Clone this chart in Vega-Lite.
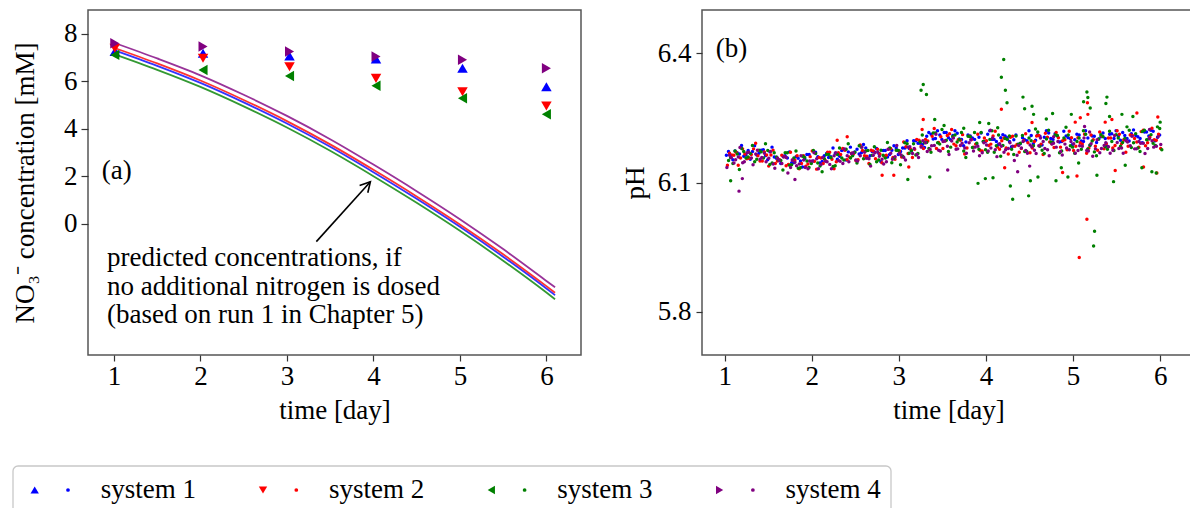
{
"$schema": "https://vega.github.io/schema/vega-lite/v6.json",
"padding": {"left": 10, "top": 9, "right": 0, "bottom": 0},
"config": {
  "font": "Liberation Serif",
  "axis": {"labelFont": "Liberation Serif", "titleFont": "Liberation Serif", "labelFontSize": 27, "titleFontSize": 27, "titleFontWeight": "normal", "labelColor": "#000", "titleColor": "#000", "grid": false, "domain": false, "tickColor": "#333", "tickWidth": 1.2, "labelFlush": false, "labelOverlap": false},
  "view": {"stroke": "#555", "strokeWidth": 1.5},
  "text": {"font": "Liberation Serif", "fontSize": 27, "color": "#000"}
},
"datasets": {
  "pred": [
    {"s":1,"t":1,"c":7.32},{"s":1,"t":1.5,"c":6.66},{"s":1,"t":2,"c":5.94},{"s":1,"t":2.5,"c":5.12},{"s":1,"t":3,"c":4.23},{"s":1,"t":3.5,"c":3.25},{"s":1,"t":4,"c":2.18},{"s":1,"t":4.5,"c":1.06},{"s":1,"t":5,"c":-0.12},{"s":1,"t":5.5,"c":-1.38},{"s":1,"t":6,"c":-2.72},{"s":1,"t":6.1,"c":-3.0},
    {"s":3,"t":1,"c":7.15},{"s":3,"t":1.5,"c":6.49},{"s":3,"t":2,"c":5.77},{"s":3,"t":2.5,"c":4.95},{"s":3,"t":3,"c":4.06},{"s":3,"t":3.5,"c":3.08},{"s":3,"t":4,"c":2.01},{"s":3,"t":4.5,"c":0.89},{"s":3,"t":5,"c":-0.29},{"s":3,"t":5.5,"c":-1.55},{"s":3,"t":6,"c":-2.89},{"s":3,"t":6.1,"c":-3.17},
    {"s":2,"t":1,"c":7.42},{"s":2,"t":1.5,"c":6.76},{"s":2,"t":2,"c":6.04},{"s":2,"t":2.5,"c":5.22},{"s":2,"t":3,"c":4.33},{"s":2,"t":3.5,"c":3.35},{"s":2,"t":4,"c":2.28},{"s":2,"t":4.5,"c":1.16},{"s":2,"t":5,"c":-0.02},{"s":2,"t":5.5,"c":-1.28},{"s":2,"t":6,"c":-2.62},{"s":2,"t":6.1,"c":-2.9},
    {"s":4,"t":1,"c":7.63},{"s":4,"t":1.5,"c":6.97},{"s":4,"t":2,"c":6.26},{"s":4,"t":2.5,"c":5.44},{"s":4,"t":3,"c":4.55},{"s":4,"t":3.5,"c":3.57},{"s":4,"t":4,"c":2.5},{"s":4,"t":4.5,"c":1.38},{"s":4,"t":5,"c":0.2},{"s":4,"t":5.5,"c":-1.06},{"s":4,"t":6,"c":-2.4},{"s":4,"t":6.1,"c":-2.67}
  ],
  "no3": [
    {"s":1,"t":1.01,"c":7.26},{"s":1,"t":2.03,"c":7.19},{"s":1,"t":3.03,"c":7.07},{"s":1,"t":4.03,"c":6.95},{"s":1,"t":5.03,"c":6.56},{"s":1,"t":6.0,"c":5.78},
    {"s":2,"t":1.01,"c":7.4},{"s":2,"t":2.03,"c":6.98},{"s":2,"t":3.03,"c":6.62},{"s":2,"t":4.03,"c":6.13},{"s":2,"t":5.03,"c":5.57},{"s":2,"t":6.0,"c":4.97},
    {"s":3,"t":1.01,"c":7.12},{"s":3,"t":2.03,"c":6.48},{"s":3,"t":3.03,"c":6.23},{"s":3,"t":4.03,"c":5.82},{"s":3,"t":5.03,"c":5.29},{"s":3,"t":6.0,"c":4.62},
    {"s":4,"t":1.01,"c":7.61},{"s":4,"t":2.03,"c":7.47},{"s":4,"t":3.03,"c":7.26},{"s":4,"t":4.03,"c":7.05},{"s":4,"t":5.03,"c":6.91},{"s":4,"t":6.0,"c":6.56}
  ],
  "ph": [
{"s":1,"t":1.02,"p":6.163},{"s":1,"t":1.07,"p":6.158},{"s":1,"t":1.12,"p":6.173},{"s":1,"t":1.17,"p":6.166},{"s":1,"t":1.22,"p":6.161},{"s":1,"t":1.27,"p":6.174},{"s":1,"t":1.32,"p":6.172},{"s":1,"t":1.37,"p":6.164},{"s":1,"t":1.42,"p":6.175},{"s":1,"t":1.47,"p":6.162},
{"s":1,"t":1.52,"p":6.171},{"s":1,"t":1.57,"p":6.159},{"s":1,"t":1.62,"p":6.151},{"s":1,"t":1.67,"p":6.161},{"s":1,"t":1.72,"p":6.157},{"s":1,"t":1.77,"p":6.146},{"s":1,"t":1.82,"p":6.16},{"s":1,"t":1.87,"p":6.15},{"s":1,"t":1.92,"p":6.155},{"s":1,"t":1.97,"p":6.165},
{"s":1,"t":2.02,"p":6.15},{"s":1,"t":2.07,"p":6.16},{"s":1,"t":2.12,"p":6.149},{"s":1,"t":2.17,"p":6.167},{"s":1,"t":2.22,"p":6.16},{"s":1,"t":2.27,"p":6.168},{"s":1,"t":2.32,"p":6.161},{"s":1,"t":2.37,"p":6.176},{"s":1,"t":2.42,"p":6.171},{"s":1,"t":2.47,"p":6.164},
{"s":1,"t":2.52,"p":6.177},{"s":1,"t":2.57,"p":6.169},{"s":1,"t":2.62,"p":6.18},{"s":1,"t":2.67,"p":6.162},{"s":1,"t":2.72,"p":6.171},{"s":1,"t":2.77,"p":6.167},{"s":1,"t":2.82,"p":6.174},{"s":1,"t":2.87,"p":6.159},{"s":1,"t":2.92,"p":6.175},{"s":1,"t":2.97,"p":6.18},
{"s":1,"t":3.02,"p":6.172},{"s":1,"t":3.07,"p":6.18},{"s":1,"t":3.12,"p":6.179},{"s":1,"t":3.17,"p":6.197},{"s":1,"t":3.22,"p":6.191},{"s":1,"t":3.27,"p":6.188},{"s":1,"t":3.32,"p":6.207},{"s":1,"t":3.37,"p":6.212},{"s":1,"t":3.42,"p":6.202},{"s":1,"t":3.47,"p":6.21},
{"s":1,"t":3.52,"p":6.216},{"s":1,"t":3.57,"p":6.204},{"s":1,"t":3.62,"p":6.209},{"s":1,"t":3.67,"p":6.214},{"s":1,"t":3.72,"p":6.2},{"s":1,"t":3.77,"p":6.194},{"s":1,"t":3.82,"p":6.208},{"s":1,"t":3.87,"p":6.2},{"s":1,"t":3.92,"p":6.205},{"s":1,"t":3.97,"p":6.195},
{"s":1,"t":4.02,"p":6.212},{"s":1,"t":4.07,"p":6.2},{"s":1,"t":4.12,"p":6.195},{"s":1,"t":4.17,"p":6.204},{"s":1,"t":4.22,"p":6.208},{"s":1,"t":4.27,"p":6.195},{"s":1,"t":4.32,"p":6.199},{"s":1,"t":4.37,"p":6.189},{"s":1,"t":4.42,"p":6.204},{"s":1,"t":4.47,"p":6.197},
{"s":1,"t":4.52,"p":6.209},{"s":1,"t":4.57,"p":6.198},{"s":1,"t":4.62,"p":6.207},{"s":1,"t":4.67,"p":6.205},{"s":1,"t":4.72,"p":6.215},{"s":1,"t":4.77,"p":6.2},{"s":1,"t":4.82,"p":6.208},{"s":1,"t":4.87,"p":6.195},{"s":1,"t":4.92,"p":6.208},{"s":1,"t":4.97,"p":6.202},
{"s":1,"t":5.02,"p":6.199},{"s":1,"t":5.07,"p":6.21},{"s":1,"t":5.12,"p":6.195},{"s":1,"t":5.17,"p":6.203},{"s":1,"t":5.22,"p":6.208},{"s":1,"t":5.27,"p":6.193},{"s":1,"t":5.32,"p":6.206},{"s":1,"t":5.37,"p":6.202},{"s":1,"t":5.42,"p":6.212},{"s":1,"t":5.47,"p":6.202},
{"s":1,"t":5.52,"p":6.208},{"s":1,"t":5.57,"p":6.216},{"s":1,"t":5.62,"p":6.202},{"s":1,"t":5.67,"p":6.213},{"s":1,"t":5.72,"p":6.209},{"s":1,"t":5.77,"p":6.202},{"s":1,"t":5.82,"p":6.217},{"s":1,"t":5.87,"p":6.208},{"s":1,"t":5.92,"p":6.219},{"s":1,"t":5.97,"p":6.205},
{"s":1,"t":1.044,"p":6.172},{"s":1,"t":1.094,"p":6.153},{"s":1,"t":1.144,"p":6.169},{"s":1,"t":1.194,"p":6.186},{"s":1,"t":1.244,"p":6.164},{"s":1,"t":1.294,"p":6.154},{"s":1,"t":1.344,"p":6.185},{"s":1,"t":1.394,"p":6.168},{"s":1,"t":1.444,"p":6.176},{"s":1,"t":1.494,"p":6.153},
{"s":1,"t":1.544,"p":6.182},{"s":1,"t":1.594,"p":6.156},{"s":1,"t":1.644,"p":6.144},{"s":1,"t":1.694,"p":6.162},{"s":1,"t":1.744,"p":6.171},{"s":1,"t":1.794,"p":6.146},{"s":1,"t":1.844,"p":6.156},{"s":1,"t":1.894,"p":6.136},{"s":1,"t":1.944,"p":6.165},{"s":1,"t":1.994,"p":6.149},
{"s":1,"t":2.044,"p":6.17},{"s":1,"t":2.094,"p":6.145},{"s":1,"t":2.144,"p":6.162},{"s":1,"t":2.194,"p":6.158},{"s":1,"t":2.244,"p":6.18},{"s":1,"t":2.294,"p":6.154},{"s":1,"t":2.344,"p":6.174},{"s":1,"t":2.394,"p":6.152},{"s":1,"t":2.444,"p":6.182},{"s":1,"t":2.494,"p":6.171},
{"s":1,"t":2.544,"p":6.166},{"s":1,"t":2.594,"p":6.188},{"s":1,"t":2.644,"p":6.157},{"s":1,"t":2.694,"p":6.172},{"s":1,"t":2.744,"p":6.179},{"s":1,"t":2.794,"p":6.148},{"s":1,"t":2.844,"p":6.174},{"s":1,"t":2.894,"p":6.165},{"s":1,"t":2.944,"p":6.185},{"s":1,"t":2.994,"p":6.165},
{"s":1,"t":3.044,"p":6.18},{"s":1,"t":3.094,"p":6.197},{"s":1,"t":3.144,"p":6.173},{"s":1,"t":3.194,"p":6.197},{"s":1,"t":3.244,"p":6.191},{"s":1,"t":3.294,"p":6.181},{"s":1,"t":3.344,"p":6.216},{"s":1,"t":3.394,"p":6.201},{"s":1,"t":3.444,"p":6.22},{"s":1,"t":3.494,"p":6.2},
{"s":1,"t":3.544,"p":6.216},{"s":1,"t":3.594,"p":6.199},{"s":1,"t":3.644,"p":6.22},{"s":1,"t":3.694,"p":6.201},{"s":1,"t":3.744,"p":6.185},{"s":1,"t":3.794,"p":6.21},{"s":1,"t":3.844,"p":6.203},{"s":1,"t":3.894,"p":6.189},{"s":1,"t":3.944,"p":6.215},{"s":1,"t":3.994,"p":6.195},
{"s":1,"t":4.044,"p":6.22},{"s":1,"t":4.094,"p":6.2},{"s":1,"t":4.144,"p":6.188},{"s":1,"t":4.194,"p":6.211},{"s":1,"t":4.244,"p":6.204},{"s":1,"t":4.294,"p":6.183},{"s":1,"t":4.344,"p":6.21},{"s":1,"t":4.394,"p":6.19},{"s":1,"t":4.444,"p":6.199},{"s":1,"t":4.494,"p":6.22},
{"s":1,"t":4.544,"p":6.19},{"s":1,"t":4.594,"p":6.21},{"s":1,"t":4.644,"p":6.187},{"s":1,"t":4.694,"p":6.22},{"s":1,"t":4.744,"p":6.202},{"s":1,"t":4.794,"p":6.213},{"s":1,"t":4.844,"p":6.194},{"s":1,"t":4.894,"p":6.219},{"s":1,"t":4.944,"p":6.204},{"s":1,"t":4.994,"p":6.188},
{"s":1,"t":5.044,"p":6.212},{"s":1,"t":5.094,"p":6.196},{"s":1,"t":5.144,"p":6.22},{"s":1,"t":5.194,"p":6.186},{"s":1,"t":5.244,"p":6.207},{"s":1,"t":5.294,"p":6.201},{"s":1,"t":5.344,"p":6.215},{"s":1,"t":5.394,"p":6.184},{"s":1,"t":5.444,"p":6.213},{"s":1,"t":5.494,"p":6.22},
{"s":1,"t":5.544,"p":6.198},{"s":1,"t":5.594,"p":6.209},{"s":1,"t":5.644,"p":6.196},{"s":1,"t":5.694,"p":6.222},{"s":1,"t":5.744,"p":6.206},{"s":1,"t":5.794,"p":6.192},{"s":1,"t":5.844,"p":6.217},{"s":1,"t":5.894,"p":6.221},{"s":1,"t":5.944,"p":6.197},{"s":1,"t":5.994,"p":6.21},
{"s":2,"t":1.032,"p":6.14},{"s":2,"t":1.082,"p":6.164},{"s":2,"t":1.132,"p":6.17},{"s":2,"t":1.182,"p":6.157},{"s":2,"t":1.232,"p":6.166},{"s":2,"t":1.282,"p":6.156},{"s":2,"t":1.332,"p":6.178},{"s":2,"t":1.382,"p":6.162},{"s":2,"t":1.432,"p":6.15},{"s":2,"t":1.482,"p":6.164},
{"s":2,"t":1.532,"p":6.164},{"s":2,"t":1.582,"p":6.144},{"s":2,"t":1.632,"p":6.153},{"s":2,"t":1.682,"p":6.16},{"s":2,"t":1.732,"p":6.142},{"s":2,"t":1.782,"p":6.152},{"s":2,"t":1.832,"p":6.162},{"s":2,"t":1.882,"p":6.144},{"s":2,"t":1.932,"p":6.138},{"s":2,"t":1.982,"p":6.16},
{"s":2,"t":2.032,"p":6.149},{"s":2,"t":2.082,"p":6.158},{"s":2,"t":2.132,"p":6.144},{"s":2,"t":2.182,"p":6.17},{"s":2,"t":2.232,"p":6.154},{"s":2,"t":2.282,"p":6.148},{"s":2,"t":2.332,"p":6.165},{"s":2,"t":2.382,"p":6.175},{"s":2,"t":2.432,"p":6.159},{"s":2,"t":2.482,"p":6.167},
{"s":2,"t":2.532,"p":6.153},{"s":2,"t":2.582,"p":6.174},{"s":2,"t":2.632,"p":6.161},{"s":2,"t":2.682,"p":6.175},{"s":2,"t":2.732,"p":6.155},{"s":2,"t":2.782,"p":6.166},{"s":2,"t":2.832,"p":6.161},{"s":2,"t":2.882,"p":6.177},{"s":2,"t":2.932,"p":6.158},{"s":2,"t":2.982,"p":6.174},
{"s":2,"t":3.032,"p":6.159},{"s":2,"t":3.082,"p":6.183},{"s":2,"t":3.132,"p":6.178},{"s":2,"t":3.182,"p":6.177},{"s":2,"t":3.232,"p":6.198},{"s":2,"t":3.282,"p":6.179},{"s":2,"t":3.332,"p":6.196},{"s":2,"t":3.382,"p":6.207},{"s":2,"t":3.432,"p":6.179},{"s":2,"t":3.482,"p":6.206},
{"s":2,"t":3.532,"p":6.196},{"s":2,"t":3.582,"p":6.213},{"s":2,"t":3.632,"p":6.189},{"s":2,"t":3.682,"p":6.199},{"s":2,"t":3.732,"p":6.211},{"s":2,"t":3.782,"p":6.18},{"s":2,"t":3.832,"p":6.199},{"s":2,"t":3.882,"p":6.189},{"s":2,"t":3.932,"p":6.175},{"s":2,"t":3.982,"p":6.203},
{"s":2,"t":4.032,"p":6.186},{"s":2,"t":4.082,"p":6.208},{"s":2,"t":4.132,"p":6.182},{"s":2,"t":4.182,"p":6.197},{"s":2,"t":4.232,"p":6.18},{"s":2,"t":4.282,"p":6.205},{"s":2,"t":4.332,"p":6.184},{"s":2,"t":4.382,"p":6.17},{"s":2,"t":4.432,"p":6.197},{"s":2,"t":4.482,"p":6.192},
{"s":2,"t":4.532,"p":6.18},{"s":2,"t":4.582,"p":6.208},{"s":2,"t":4.632,"p":6.189},{"s":2,"t":4.682,"p":6.214},{"s":2,"t":4.732,"p":6.194},{"s":2,"t":4.782,"p":6.181},{"s":2,"t":4.832,"p":6.204},{"s":2,"t":4.882,"p":6.197},{"s":2,"t":4.932,"p":6.176},{"s":2,"t":4.982,"p":6.204},
{"s":2,"t":5.032,"p":6.184},{"s":2,"t":5.082,"p":6.192},{"s":2,"t":5.132,"p":6.212},{"s":2,"t":5.182,"p":6.18},{"s":2,"t":5.232,"p":6.199},{"s":2,"t":5.282,"p":6.175},{"s":2,"t":5.332,"p":6.207},{"s":2,"t":5.382,"p":6.19},{"s":2,"t":5.432,"p":6.203},{"s":2,"t":5.482,"p":6.186},
{"s":2,"t":5.532,"p":6.212},{"s":2,"t":5.582,"p":6.199},{"s":2,"t":5.632,"p":6.184},{"s":2,"t":5.682,"p":6.209},{"s":2,"t":5.732,"p":6.194},{"s":2,"t":5.782,"p":6.218},{"s":2,"t":5.832,"p":6.185},{"s":2,"t":5.882,"p":6.205},{"s":2,"t":5.932,"p":6.199},{"s":2,"t":5.982,"p":6.212},
{"s":2,"t":1.056,"p":6.168},{"s":2,"t":1.106,"p":6.163},{"s":2,"t":1.156,"p":6.14},{"s":2,"t":1.206,"p":6.178},{"s":2,"t":1.256,"p":6.155},{"s":2,"t":1.306,"p":6.165},{"s":2,"t":1.356,"p":6.191},{"s":2,"t":1.406,"p":6.15},{"s":2,"t":1.456,"p":6.171},{"s":2,"t":1.506,"p":6.138},
{"s":2,"t":1.556,"p":6.175},{"s":2,"t":1.606,"p":6.15},{"s":2,"t":1.656,"p":6.163},{"s":2,"t":1.706,"p":6.139},{"s":2,"t":1.756,"p":6.17},{"s":2,"t":1.806,"p":6.152},{"s":2,"t":1.856,"p":6.132},{"s":2,"t":1.906,"p":6.162},{"s":2,"t":1.956,"p":6.143},{"s":2,"t":2.006,"p":6.173},
{"s":2,"t":2.056,"p":6.131},{"s":2,"t":2.106,"p":6.157},{"s":2,"t":2.156,"p":6.151},{"s":2,"t":2.206,"p":6.17},{"s":2,"t":2.256,"p":6.132},{"s":2,"t":2.306,"p":6.169},{"s":2,"t":2.356,"p":6.179},{"s":2,"t":2.406,"p":6.153},{"s":2,"t":2.456,"p":6.168},{"s":2,"t":2.506,"p":6.151},
{"s":2,"t":2.556,"p":6.187},{"s":2,"t":2.606,"p":6.162},{"s":2,"t":2.656,"p":6.144},{"s":2,"t":2.706,"p":6.173},{"s":2,"t":2.756,"p":6.177},{"s":2,"t":2.806,"p":6.146},{"s":2,"t":2.856,"p":6.163},{"s":2,"t":2.906,"p":6.179},{"s":2,"t":2.956,"p":6.154},{"s":2,"t":3.006,"p":6.173},
{"s":2,"t":3.056,"p":6.194},{"s":2,"t":3.106,"p":6.167},{"s":2,"t":3.156,"p":6.158},{"s":2,"t":3.206,"p":6.2},{"s":2,"t":3.256,"p":6.184},{"s":2,"t":3.306,"p":6.2},{"s":2,"t":3.356,"p":6.176},{"s":2,"t":3.406,"p":6.225},{"s":2,"t":3.456,"p":6.193},{"s":2,"t":3.506,"p":6.179},
{"s":2,"t":3.556,"p":6.209},{"s":2,"t":3.606,"p":6.223},{"s":2,"t":3.656,"p":6.185},{"s":2,"t":3.706,"p":6.198},{"s":2,"t":3.756,"p":6.166},{"s":2,"t":3.806,"p":6.207},{"s":2,"t":3.856,"p":6.182},{"s":2,"t":3.906,"p":6.212},{"s":2,"t":3.956,"p":6.173},{"s":2,"t":4.006,"p":6.197},
{"s":2,"t":4.056,"p":6.189},{"s":2,"t":4.106,"p":6.219},{"s":2,"t":4.156,"p":6.177},{"s":2,"t":4.206,"p":6.203},{"s":2,"t":4.256,"p":6.166},{"s":2,"t":4.306,"p":6.207},{"s":2,"t":4.356,"p":6.188},{"s":2,"t":4.406,"p":6.179},{"s":2,"t":4.456,"p":6.213},{"s":2,"t":4.506,"p":6.169},
{"s":2,"t":4.556,"p":6.195},{"s":2,"t":4.606,"p":6.209},{"s":2,"t":4.656,"p":6.165},{"s":2,"t":4.706,"p":6.205},{"s":2,"t":4.756,"p":6.19},{"s":2,"t":4.806,"p":6.216},{"s":2,"t":4.856,"p":6.182},{"s":2,"t":4.906,"p":6.199},{"s":2,"t":4.956,"p":6.219},{"s":2,"t":5.006,"p":6.174},
{"s":2,"t":5.056,"p":6.204},{"s":2,"t":5.106,"p":6.189},{"s":2,"t":5.156,"p":6.168},{"s":2,"t":5.206,"p":6.21},{"s":2,"t":5.256,"p":6.184},{"s":2,"t":5.306,"p":6.217},{"s":2,"t":5.356,"p":6.178},{"s":2,"t":5.406,"p":6.203},{"s":2,"t":5.456,"p":6.18},{"s":2,"t":5.506,"p":6.22},
{"s":2,"t":5.556,"p":6.19},{"s":2,"t":5.606,"p":6.17},{"s":2,"t":5.656,"p":6.21},{"s":2,"t":5.706,"p":6.202},{"s":2,"t":5.756,"p":6.182},{"s":2,"t":5.806,"p":6.221},{"s":2,"t":5.856,"p":6.192},{"s":2,"t":5.906,"p":6.226},{"s":2,"t":5.956,"p":6.198},{"s":2,"t":6.006,"p":6.179},
{"s":2,"t":3.28,"p":6.246},{"s":2,"t":3.267,"p":6.223},{"s":2,"t":4.177,"p":6.27},{"s":2,"t":4.215,"p":6.134},{"s":2,"t":4.529,"p":6.239},{"s":2,"t":5.17,"p":6.258},{"s":2,"t":5.165,"p":6.285},{"s":2,"t":5.083,"p":6.25},{"s":2,"t":5.025,"p":6.24},{"s":2,"t":5.159,"p":6.015},{"s":2,"t":5.071,"p":5.926},{"s":2,"t":5.045,"p":6.115},{"s":2,"t":4.88,"p":6.123},{"s":2,"t":5.484,"p":6.128},{"s":2,"t":5.446,"p":6.246},{"s":2,"t":5.369,"p":6.24},{"s":2,"t":5.733,"p":6.261},{"s":2,"t":5.973,"p":6.252},{"s":2,"t":5.962,"p":6.122},{"s":2,"t":5.809,"p":6.136},{"s":2,"t":3.114,"p":6.136},{"s":2,"t":2.942,"p":6.117},{"s":2,"t":2.808,"p":6.117},{"s":2,"t":2.292,"p":6.198},{"s":2,"t":2.407,"p":6.206},
{"s":3,"t":1.045,"p":6.151},{"s":3,"t":1.095,"p":6.144},{"s":3,"t":1.145,"p":6.166},{"s":3,"t":1.195,"p":6.179},{"s":3,"t":1.245,"p":6.157},{"s":3,"t":1.295,"p":6.167},{"s":3,"t":1.345,"p":6.148},{"s":3,"t":1.395,"p":6.175},{"s":3,"t":1.445,"p":6.157},{"s":3,"t":1.495,"p":6.174},
{"s":3,"t":1.545,"p":6.145},{"s":3,"t":1.595,"p":6.159},{"s":3,"t":1.645,"p":6.151},{"s":3,"t":1.695,"p":6.169},{"s":3,"t":1.745,"p":6.14},{"s":3,"t":1.795,"p":6.157},{"s":3,"t":1.845,"p":6.133},{"s":3,"t":1.895,"p":6.161},{"s":3,"t":1.945,"p":6.15},{"s":3,"t":1.995,"p":6.144},
{"s":3,"t":2.045,"p":6.167},{"s":3,"t":2.095,"p":6.138},{"s":3,"t":2.145,"p":6.155},{"s":3,"t":2.195,"p":6.165},{"s":3,"t":2.245,"p":6.137},{"s":3,"t":2.295,"p":6.165},{"s":3,"t":2.345,"p":6.157},{"s":3,"t":2.395,"p":6.177},{"s":3,"t":2.445,"p":6.157},{"s":3,"t":2.495,"p":6.17},
{"s":3,"t":2.545,"p":6.185},{"s":3,"t":2.595,"p":6.155},{"s":3,"t":2.645,"p":6.174},{"s":3,"t":2.695,"p":6.163},{"s":3,"t":2.745,"p":6.148},{"s":3,"t":2.795,"p":6.175},{"s":3,"t":2.845,"p":6.157},{"s":3,"t":2.895,"p":6.18},{"s":3,"t":2.945,"p":6.156},{"s":3,"t":2.995,"p":6.174},
{"s":3,"t":3.045,"p":6.161},{"s":3,"t":3.095,"p":6.19},{"s":3,"t":3.145,"p":6.174},{"s":3,"t":3.195,"p":6.164},{"s":3,"t":3.245,"p":6.194},{"s":3,"t":3.295,"p":6.192},{"s":3,"t":3.345,"p":6.179},{"s":3,"t":3.395,"p":6.215},{"s":3,"t":3.445,"p":6.192},{"s":3,"t":3.495,"p":6.223},
{"s":3,"t":3.545,"p":6.198},{"s":3,"t":3.595,"p":6.182},{"s":3,"t":3.645,"p":6.21},{"s":3,"t":3.695,"p":6.2},{"s":3,"t":3.745,"p":6.173},{"s":3,"t":3.795,"p":6.207},{"s":3,"t":3.845,"p":6.181},{"s":3,"t":3.895,"p":6.191},{"s":3,"t":3.945,"p":6.216},{"s":3,"t":3.995,"p":6.176},
{"s":3,"t":4.045,"p":6.2},{"s":3,"t":4.095,"p":6.17},{"s":3,"t":4.145,"p":6.21},{"s":3,"t":4.195,"p":6.186},{"s":3,"t":4.245,"p":6.2},{"s":3,"t":4.295,"p":6.177},{"s":3,"t":4.345,"p":6.208},{"s":3,"t":4.395,"p":6.191},{"s":3,"t":4.445,"p":6.172},{"s":3,"t":4.495,"p":6.203},
{"s":3,"t":4.545,"p":6.185},{"s":3,"t":4.595,"p":6.217},{"s":3,"t":4.645,"p":6.175},{"s":3,"t":4.695,"p":6.201},{"s":3,"t":4.745,"p":6.194},{"s":3,"t":4.795,"p":6.21},{"s":3,"t":4.845,"p":6.169},{"s":3,"t":4.895,"p":6.203},{"s":3,"t":4.945,"p":6.21},{"s":3,"t":4.995,"p":6.182},
{"s":3,"t":5.045,"p":6.195},{"s":3,"t":5.095,"p":6.177},{"s":3,"t":5.145,"p":6.212},{"s":3,"t":5.195,"p":6.187},{"s":3,"t":5.245,"p":6.171},{"s":3,"t":5.295,"p":6.201},{"s":3,"t":5.345,"p":6.206},{"s":3,"t":5.395,"p":6.177},{"s":3,"t":5.445,"p":6.195},{"s":3,"t":5.495,"p":6.211},
{"s":3,"t":5.545,"p":6.184},{"s":3,"t":5.595,"p":6.202},{"s":3,"t":5.645,"p":6.221},{"s":3,"t":5.695,"p":6.192},{"s":3,"t":5.745,"p":6.18},{"s":3,"t":5.795,"p":6.218},{"s":3,"t":5.845,"p":6.199},{"s":3,"t":5.895,"p":6.211},{"s":3,"t":5.945,"p":6.186},{"s":3,"t":5.995,"p":6.225},
{"s":3,"t":1.069,"p":6.158},{"s":3,"t":1.119,"p":6.173},{"s":3,"t":1.169,"p":6.13},{"s":3,"t":1.219,"p":6.172},{"s":3,"t":1.269,"p":6.159},{"s":3,"t":1.319,"p":6.186},{"s":3,"t":1.369,"p":6.154},{"s":3,"t":1.419,"p":6.171},{"s":3,"t":1.469,"p":6.19},{"s":3,"t":1.519,"p":6.142},
{"s":3,"t":1.569,"p":6.169},{"s":3,"t":1.619,"p":6.152},{"s":3,"t":1.669,"p":6.129},{"s":3,"t":1.719,"p":6.169},{"s":3,"t":1.769,"p":6.141},{"s":3,"t":1.819,"p":6.173},{"s":3,"t":1.869,"p":6.134},{"s":3,"t":1.919,"p":6.158},{"s":3,"t":1.969,"p":6.135},{"s":3,"t":2.019,"p":6.174},
{"s":3,"t":2.069,"p":6.145},{"s":3,"t":2.119,"p":6.125},{"s":3,"t":2.169,"p":6.165},{"s":3,"t":2.219,"p":6.158},{"s":3,"t":2.269,"p":6.139},{"s":3,"t":2.319,"p":6.18},{"s":3,"t":2.369,"p":6.152},{"s":3,"t":2.419,"p":6.19},{"s":3,"t":2.469,"p":6.162},{"s":3,"t":2.519,"p":6.145},
{"s":3,"t":2.569,"p":6.182},{"s":3,"t":2.619,"p":6.173},{"s":3,"t":2.669,"p":6.142},{"s":3,"t":2.719,"p":6.183},{"s":3,"t":2.769,"p":6.152},{"s":3,"t":2.819,"p":6.163},{"s":3,"t":2.869,"p":6.193},{"s":3,"t":2.919,"p":6.146},{"s":3,"t":2.969,"p":6.175},{"s":3,"t":3.019,"p":6.141},
{"s":3,"t":3.069,"p":6.192},{"s":3,"t":3.119,"p":6.168},{"s":3,"t":3.169,"p":6.19},{"s":3,"t":3.219,"p":6.167},{"s":3,"t":3.269,"p":6.21},{"s":3,"t":3.319,"p":6.193},{"s":3,"t":3.369,"p":6.17},{"s":3,"t":3.419,"p":6.215},{"s":3,"t":3.469,"p":6.189},{"s":3,"t":3.519,"p":6.232},
{"s":3,"t":3.569,"p":6.172},{"s":3,"t":3.619,"p":6.206},{"s":3,"t":3.669,"p":6.194},{"s":3,"t":3.719,"p":6.216},{"s":3,"t":3.769,"p":6.158},{"s":3,"t":3.819,"p":6.206},{"s":3,"t":3.869,"p":6.216},{"s":3,"t":3.919,"p":6.177},{"s":3,"t":3.969,"p":6.195},{"s":3,"t":4.019,"p":6.17},
{"s":3,"t":4.069,"p":6.22},{"s":3,"t":4.119,"p":6.185},{"s":3,"t":4.169,"p":6.161},{"s":3,"t":4.219,"p":6.202},{"s":3,"t":4.269,"p":6.208},{"s":3,"t":4.319,"p":6.165},{"s":3,"t":4.369,"p":6.188},{"s":3,"t":4.419,"p":6.209},{"s":3,"t":4.469,"p":6.172},{"s":3,"t":4.519,"p":6.197},
{"s":3,"t":4.569,"p":6.224},{"s":3,"t":4.619,"p":6.184},{"s":3,"t":4.669,"p":6.167},{"s":3,"t":4.719,"p":6.221},{"s":3,"t":4.769,"p":6.193},{"s":3,"t":4.819,"p":6.209},{"s":3,"t":4.869,"p":6.173},{"s":3,"t":4.919,"p":6.228},{"s":3,"t":4.969,"p":6.185},{"s":3,"t":5.019,"p":6.168},
{"s":3,"t":5.069,"p":6.203},{"s":3,"t":5.119,"p":6.22},{"s":3,"t":5.169,"p":6.178},{"s":3,"t":5.219,"p":6.196},{"s":3,"t":5.269,"p":6.162},{"s":3,"t":5.319,"p":6.211},{"s":3,"t":5.369,"p":6.183},{"s":3,"t":5.419,"p":6.219},{"s":3,"t":5.469,"p":6.174},{"s":3,"t":5.519,"p":6.203},
{"s":3,"t":5.569,"p":6.193},{"s":3,"t":5.619,"p":6.229},{"s":3,"t":5.669,"p":6.181},{"s":3,"t":5.719,"p":6.213},{"s":3,"t":5.769,"p":6.172},{"s":3,"t":5.819,"p":6.221},{"s":3,"t":5.869,"p":6.201},{"s":3,"t":5.919,"p":6.191},{"s":3,"t":5.969,"p":6.229},{"s":3,"t":6.019,"p":6.176},
{"s":3,"t":3.28,"p":6.327},{"s":3,"t":3.255,"p":6.314},{"s":3,"t":3.317,"p":6.304},{"s":3,"t":4.204,"p":6.385},{"s":3,"t":4.177,"p":6.344},{"s":3,"t":4.223,"p":6.314},{"s":3,"t":4.242,"p":6.285},{"s":3,"t":4.425,"p":6.298},{"s":3,"t":4.444,"p":6.271},{"s":3,"t":4.529,"p":6.277},{"s":3,"t":4.547,"p":6.258},{"s":3,"t":5.159,"p":6.31},{"s":3,"t":5.17,"p":6.297},{"s":3,"t":5.121,"p":6.287},{"s":3,"t":5.197,"p":6.273},{"s":3,"t":5.389,"p":6.298},{"s":3,"t":5.377,"p":6.283},{"s":3,"t":5.419,"p":6.253},{"s":3,"t":5.561,"p":6.258},{"s":3,"t":5.687,"p":6.253},{"s":3,"t":4.98,"p":6.258},{"s":3,"t":4.765,"p":6.26},{"s":3,"t":4.693,"p":6.247},{"s":3,"t":4.135,"p":6.227},{"s":3,"t":4.032,"p":6.237},{"s":3,"t":3.928,"p":6.239},{"s":3,"t":3.745,"p":6.226},{"s":3,"t":3.412,"p":6.246},{"s":3,"t":3.355,"p":6.113},{"s":3,"t":3.103,"p":6.107},{"s":3,"t":4.28,"p":6.092},{"s":3,"t":4.307,"p":6.061},{"s":3,"t":4.49,"p":6.069},{"s":3,"t":4.51,"p":6.104},{"s":3,"t":4.597,"p":6.113},{"s":3,"t":4.081,"p":6.111},{"s":3,"t":3.993,"p":6.109},{"s":3,"t":3.909,"p":6.098},{"s":3,"t":4.804,"p":6.104},{"s":3,"t":4.941,"p":6.113},{"s":3,"t":5.274,"p":6.117},{"s":3,"t":5.247,"p":5.987},{"s":3,"t":5.236,"p":5.953},{"s":3,"t":5.465,"p":6.102},{"s":3,"t":5.599,"p":6.14},{"s":3,"t":5.79,"p":6.134},{"s":3,"t":5.905,"p":6.125},{"s":3,"t":5.955,"p":6.122},{"s":3,"t":6.0,"p":6.24},{"s":3,"t":4.865,"p":6.134},{"s":3,"t":5.064,"p":6.145},{"s":3,"t":1.069,"p":6.104},
{"s":4,"t":1.057,"p":6.163},{"s":4,"t":1.107,"p":6.145},{"s":4,"t":1.157,"p":6.159},{"s":4,"t":1.207,"p":6.146},{"s":4,"t":1.257,"p":6.169},{"s":4,"t":1.307,"p":6.157},{"s":4,"t":1.357,"p":6.166},{"s":4,"t":1.407,"p":6.154},{"s":4,"t":1.457,"p":6.168},{"s":4,"t":1.507,"p":6.156},
{"s":4,"t":1.557,"p":6.143},{"s":4,"t":1.607,"p":6.157},{"s":4,"t":1.657,"p":6.144},{"s":4,"t":1.707,"p":6.158},{"s":4,"t":1.757,"p":6.135},{"s":4,"t":1.807,"p":6.147},{"s":4,"t":1.857,"p":6.143},{"s":4,"t":1.907,"p":6.152},{"s":4,"t":1.957,"p":6.132},{"s":4,"t":2.007,"p":6.15},
{"s":4,"t":2.057,"p":6.155},{"s":4,"t":2.107,"p":6.142},{"s":4,"t":2.157,"p":6.149},{"s":4,"t":2.207,"p":6.142},{"s":4,"t":2.257,"p":6.162},{"s":4,"t":2.307,"p":6.151},{"s":4,"t":2.357,"p":6.144},{"s":4,"t":2.407,"p":6.162},{"s":4,"t":2.457,"p":6.167},{"s":4,"t":2.507,"p":6.152},
{"s":4,"t":2.557,"p":6.162},{"s":4,"t":2.607,"p":6.17},{"s":4,"t":2.657,"p":6.155},{"s":4,"t":2.707,"p":6.163},{"s":4,"t":2.757,"p":6.171},{"s":4,"t":2.807,"p":6.154},{"s":4,"t":2.857,"p":6.148},{"s":4,"t":2.907,"p":6.168},{"s":4,"t":2.957,"p":6.16},{"s":4,"t":3.007,"p":6.168},
{"s":4,"t":3.057,"p":6.158},{"s":4,"t":3.107,"p":6.182},{"s":4,"t":3.157,"p":6.167},{"s":4,"t":3.207,"p":6.165},{"s":4,"t":3.257,"p":6.182},{"s":4,"t":3.307,"p":6.192},{"s":4,"t":3.357,"p":6.177},{"s":4,"t":3.407,"p":6.186},{"s":4,"t":3.457,"p":6.175},{"s":4,"t":3.507,"p":6.195},
{"s":4,"t":3.557,"p":6.184},{"s":4,"t":3.607,"p":6.196},{"s":4,"t":3.657,"p":6.177},{"s":4,"t":3.707,"p":6.186},{"s":4,"t":3.757,"p":6.18},{"s":4,"t":3.807,"p":6.192},{"s":4,"t":3.857,"p":6.173},{"s":4,"t":3.907,"p":6.184},{"s":4,"t":3.957,"p":6.169},{"s":4,"t":4.007,"p":6.187},
{"s":4,"t":4.057,"p":6.18},{"s":4,"t":4.107,"p":6.176},{"s":4,"t":4.157,"p":6.19},{"s":4,"t":4.207,"p":6.17},{"s":4,"t":4.257,"p":6.179},{"s":4,"t":4.307,"p":6.184},{"s":4,"t":4.357,"p":6.163},{"s":4,"t":4.407,"p":6.18},{"s":4,"t":4.457,"p":6.174},{"s":4,"t":4.507,"p":6.187},
{"s":4,"t":4.557,"p":6.175},{"s":4,"t":4.607,"p":6.185},{"s":4,"t":4.657,"p":6.195},{"s":4,"t":4.707,"p":6.176},{"s":4,"t":4.757,"p":6.189},{"s":4,"t":4.807,"p":6.182},{"s":4,"t":4.857,"p":6.172},{"s":4,"t":4.907,"p":6.189},{"s":4,"t":4.957,"p":6.176},{"s":4,"t":5.007,"p":6.19},
{"s":4,"t":5.057,"p":6.174},{"s":4,"t":5.107,"p":6.184},{"s":4,"t":5.157,"p":6.174},{"s":4,"t":5.207,"p":6.19},{"s":4,"t":5.257,"p":6.178},{"s":4,"t":5.307,"p":6.169},{"s":4,"t":5.357,"p":6.186},{"s":4,"t":5.407,"p":6.183},{"s":4,"t":5.457,"p":6.175},{"s":4,"t":5.507,"p":6.193},
{"s":4,"t":5.557,"p":6.18},{"s":4,"t":5.607,"p":6.197},{"s":4,"t":5.657,"p":6.185},{"s":4,"t":5.707,"p":6.178},{"s":4,"t":5.757,"p":6.195},{"s":4,"t":5.807,"p":6.191},{"s":4,"t":5.857,"p":6.179},{"s":4,"t":5.907,"p":6.197},{"s":4,"t":5.957,"p":6.184},{"s":4,"t":6.007,"p":6.188},
{"s":4,"t":1.026,"p":6.135},{"s":4,"t":1.076,"p":6.158},{"s":4,"t":1.126,"p":6.153},{"s":4,"t":1.176,"p":6.181},{"s":4,"t":1.226,"p":6.148},{"s":4,"t":1.276,"p":6.17},{"s":4,"t":1.326,"p":6.141},{"s":4,"t":1.376,"p":6.175},{"s":4,"t":1.426,"p":6.158},{"s":4,"t":1.476,"p":6.148},
{"s":4,"t":1.526,"p":6.172},{"s":4,"t":1.576,"p":6.133},{"s":4,"t":1.626,"p":6.151},{"s":4,"t":1.676,"p":6.159},{"s":4,"t":1.726,"p":6.122},{"s":4,"t":1.776,"p":6.152},{"s":4,"t":1.826,"p":6.139},{"s":4,"t":1.876,"p":6.162},{"s":4,"t":1.926,"p":6.135},{"s":4,"t":1.976,"p":6.15},
{"s":4,"t":2.026,"p":6.169},{"s":4,"t":2.076,"p":6.132},{"s":4,"t":2.126,"p":6.158},{"s":4,"t":2.176,"p":6.148},{"s":4,"t":2.226,"p":6.132},{"s":4,"t":2.276,"p":6.169},{"s":4,"t":2.326,"p":6.149},{"s":4,"t":2.376,"p":6.178},{"s":4,"t":2.426,"p":6.148},{"s":4,"t":2.476,"p":6.169},
{"s":4,"t":2.526,"p":6.15},{"s":4,"t":2.576,"p":6.182},{"s":4,"t":2.626,"p":6.156},{"s":4,"t":2.676,"p":6.138},{"s":4,"t":2.726,"p":6.169},{"s":4,"t":2.776,"p":6.161},{"s":4,"t":2.826,"p":6.143},{"s":4,"t":2.876,"p":6.177},{"s":4,"t":2.926,"p":6.154},{"s":4,"t":2.976,"p":6.186},
{"s":4,"t":3.026,"p":6.164},{"s":4,"t":3.076,"p":6.152},{"s":4,"t":3.126,"p":6.183},{"s":4,"t":3.176,"p":6.179},{"s":4,"t":3.226,"p":6.158},{"s":4,"t":3.276,"p":6.197},{"s":4,"t":3.326,"p":6.172},{"s":4,"t":3.376,"p":6.185},{"s":4,"t":3.426,"p":6.212},{"s":4,"t":3.476,"p":6.173},
{"s":4,"t":3.526,"p":6.196},{"s":4,"t":3.576,"p":6.165},{"s":4,"t":3.626,"p":6.203},{"s":4,"t":3.676,"p":6.178},{"s":4,"t":3.726,"p":6.191},{"s":4,"t":3.776,"p":6.168},{"s":4,"t":3.826,"p":6.199},{"s":4,"t":3.876,"p":6.182},{"s":4,"t":3.926,"p":6.162},{"s":4,"t":3.976,"p":6.192},
{"s":4,"t":4.026,"p":6.173},{"s":4,"t":4.076,"p":6.203},{"s":4,"t":4.126,"p":6.16},{"s":4,"t":4.176,"p":6.184},{"s":4,"t":4.226,"p":6.176},{"s":4,"t":4.276,"p":6.192},{"s":4,"t":4.326,"p":6.151},{"s":4,"t":4.376,"p":6.186},{"s":4,"t":4.426,"p":6.195},{"s":4,"t":4.476,"p":6.168},
{"s":4,"t":4.526,"p":6.183},{"s":4,"t":4.576,"p":6.167},{"s":4,"t":4.626,"p":6.203},{"s":4,"t":4.676,"p":6.179},{"s":4,"t":4.726,"p":6.162},{"s":4,"t":4.776,"p":6.191},{"s":4,"t":4.826,"p":6.195},{"s":4,"t":4.876,"p":6.164},{"s":4,"t":4.926,"p":6.18},{"s":4,"t":4.976,"p":6.195},
{"s":4,"t":5.026,"p":6.168},{"s":4,"t":5.076,"p":6.185},{"s":4,"t":5.126,"p":6.203},{"s":4,"t":5.176,"p":6.173},{"s":4,"t":5.226,"p":6.161},{"s":4,"t":5.276,"p":6.199},{"s":4,"t":5.326,"p":6.179},{"s":4,"t":5.376,"p":6.192},{"s":4,"t":5.426,"p":6.168},{"s":4,"t":5.476,"p":6.209},
{"s":4,"t":5.526,"p":6.179},{"s":4,"t":5.576,"p":6.168},{"s":4,"t":5.626,"p":6.194},{"s":4,"t":5.676,"p":6.207},{"s":4,"t":5.726,"p":6.178},{"s":4,"t":5.776,"p":6.191},{"s":4,"t":5.826,"p":6.167},{"s":4,"t":5.876,"p":6.202},{"s":4,"t":5.926,"p":6.182},{"s":4,"t":5.976,"p":6.206},
{"s":4,"t":1.165,"p":6.08},{"s":4,"t":1.203,"p":6.109},{"s":4,"t":1.807,"p":6.107},{"s":4,"t":3.561,"p":6.129},{"s":4,"t":4.364,"p":6.125},{"s":4,"t":4.502,"p":6.138},{"s":4,"t":5.132,"p":6.23},{"s":4,"t":5.19,"p":6.217},{"s":4,"t":4.051,"p":6.221},{"s":4,"t":4.777,"p":6.206},{"s":4,"t":5.878,"p":6.223}
  ],
  "leg": [{"s":1,"k":0,"l":"system 1"},{"s":2,"k":1,"l":"system 2"},{"s":3,"k":2,"l":"system 3"},{"s":4,"k":3,"l":"system 4"}]
},
"spacing": 41,
"vconcat": [
  {
    "spacing": 38,
    "hconcat": [
      {
        "width": 493, "height": 345,
        "layer": [
          {
            "data": {"name": "pred"},
            "mark": {"type": "line", "interpolate": "monotone", "strokeWidth": 1.8, "opacity": 0.8},
            "encoding": {
              "x": {"field": "t", "type": "quantitative", "scale": {"domain": [0.7, 6.4], "nice": false, "zero": false}, "axis": {"values": [1,2,3,4,5,6], "format": "d", "title": "time [day]", "tickSize": 6, "labelPadding": 2, "titlePadding": 8}},
              "y": {"field": "c", "type": "quantitative", "scale": {"domain": [-5.52, 9.01], "nice": false, "zero": false}, "axis": {"values": [0,2,4,6,8], "format": "d", "title": "NO₃⁻ concentration [mM]", "tickSize": 7, "labelPadding": 4, "titlePadding": 24}},
              "color": {"field": "s", "type": "nominal", "scale": {"domain": [1,2,3,4], "range": ["#0000ff","#ff0000","#008000","#800080"]}, "legend": null}
            }
          },
          {
            "data": {"name": "no3"},
            "mark": {"type": "point", "filled": true, "size": 110, "opacity": 1, "strokeWidth": 0},
            "encoding": {
              "x": {"field": "t", "type": "quantitative"},
              "y": {"field": "c", "type": "quantitative"},
              "color": {"field": "s", "type": "nominal", "legend": null},
              "shape": {"field": "s", "type": "nominal", "scale": {"domain": [1,2,3,4], "range": ["triangle-up","triangle-down","triangle-left","triangle-right"]}, "legend": null}
            }
          },
          {
            "data": {"values": [{"t": 3.34, "c": -0.745, "t2": 3.965, "c2": 1.78}]},
            "mark": {"type": "rule", "color": "#000", "strokeWidth": 1.6},
            "encoding": {
              "x": {"field": "t", "type": "quantitative"},
              "y": {"field": "c", "type": "quantitative"},
              "x2": {"field": "t2"},
              "y2": {"field": "c2"}
            }
          },
          {
            "data": {"values": [{"t": 3.965, "c": 1.78}]},
            "mark": {"type": "point", "shape": "M-0.55,1L0,0L0.55,1", "size": 400, "filled": false, "color": "#000", "strokeWidth": 1.6, "angle": 42, "opacity": 1},
            "encoding": {
              "x": {"field": "t", "type": "quantitative"},
              "y": {"field": "c", "type": "quantitative"}
            }
          },
          {
            "data": {"values": [
              {"t": 0.86, "c": 2.23, "l": "(a)"},
              {"t": 0.92, "c": -1.44, "l": "predicted concentrations, if"},
              {"t": 0.92, "c": -2.64, "l": "no additional nitrogen is dosed"},
              {"t": 0.92, "c": -3.83, "l": "(based on run 1 in Chapter 5)"}
            ]},
            "mark": {"type": "text", "align": "left", "baseline": "middle", "fontSize": 27, "font": "Liberation Serif", "color": "#000"},
            "encoding": {
              "x": {"field": "t", "type": "quantitative"},
              "y": {"field": "c", "type": "quantitative"},
              "text": {"field": "l"}
            }
          }
        ]
      },
      {
        "width": 493, "height": 345,
        "layer": [
          {
            "data": {"name": "ph"},
            "mark": {"type": "circle", "size": 12, "opacity": 1},
            "encoding": {
              "x": {"field": "t", "type": "quantitative", "scale": {"domain": [0.74, 6.4], "nice": false, "zero": false}, "axis": {"values": [1,2,3,4,5,6], "format": "d", "title": "time [day]", "tickSize": 6, "labelPadding": 2, "titlePadding": 8}},
              "y": {"field": "p", "type": "quantitative", "scale": {"domain": [5.7, 6.5], "nice": false, "zero": false}, "axis": {"values": [5.8, 6.1, 6.4], "format": ".1f", "title": "pH", "tickSize": 6, "labelPadding": 5, "titlePadding": 8}},
              "color": {"field": "s", "type": "nominal", "scale": {"domain": [1,2,3,4], "range": ["#0000ff","#ff0000","#008000","#800080"]}, "legend": null}
            }
          },
          {
            "data": {"values": [{"t": 0.897, "p": 6.41, "l": "(b)"}]},
            "mark": {"type": "text", "align": "left", "baseline": "middle", "fontSize": 27, "font": "Liberation Serif", "color": "#000"},
            "encoding": {
              "x": {"field": "t", "type": "quantitative"},
              "y": {"field": "p", "type": "quantitative"},
              "text": {"field": "l"}
            }
          }
        ]
      }
    ]
  },
  {
    "width": 803, "height": 48,
    "view": {"stroke": null},
    "layer": [
      {
        "data": {"values": [{"x0": -0.3285, "x1": 3.5173, "y0": 0, "y1": 1}]},
        "mark": {"type": "rect", "fill": "#ffffff", "stroke": "#c8c8c8", "strokeWidth": 1.3, "cornerRadius": 5},
        "encoding": {
          "x": {"field": "x0", "type": "quantitative", "scale": {"domain": [0, 3.5173], "nice": false, "zero": false}, "axis": null},
          "x2": {"field": "x1"},
          "y": {"field": "y1", "type": "quantitative", "scale": {"domain": [0, 1], "nice": false, "zero": false}, "axis": null},
          "y2": {"field": "y0"}
        }
      },
      {
        "data": {"name": "leg"},
        "mark": {"type": "point", "filled": true, "size": 70, "opacity": 1, "strokeWidth": 0, "xOffset": -53.3},
        "encoding": {
          "x": {"field": "k", "type": "quantitative"},
          "y": {"datum": 0.5, "type": "quantitative"},
          "color": {"field": "s", "type": "nominal", "scale": {"domain": [1,2,3,4], "range": ["#0000ff","#ff0000","#008000","#800080"]}, "legend": null},
          "shape": {"field": "s", "type": "nominal", "scale": {"domain": [1,2,3,4], "range": ["triangle-up","triangle-down","triangle-left","triangle-right"]}, "legend": null}
        }
      },
      {
        "data": {"name": "leg"},
        "mark": {"type": "circle", "size": 14, "opacity": 1, "xOffset": -20},
        "encoding": {
          "x": {"field": "k", "type": "quantitative"},
          "y": {"datum": 0.5, "type": "quantitative"},
          "color": {"field": "s", "type": "nominal", "legend": null}
        }
      },
      {
        "data": {"name": "leg"},
        "mark": {"type": "text", "align": "left", "baseline": "middle", "dx": 12.7, "fontSize": 27, "font": "Liberation Serif", "color": "#000"},
        "encoding": {
          "x": {"field": "k", "type": "quantitative"},
          "y": {"datum": 0.5, "type": "quantitative"},
          "text": {"field": "l"}
        }
      }
    ]
  }
]
}
